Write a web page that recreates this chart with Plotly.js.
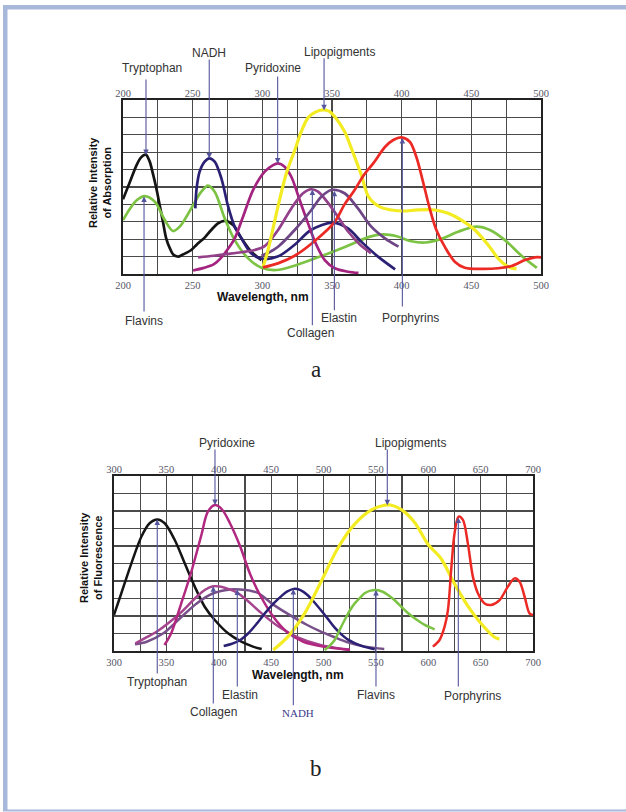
<!DOCTYPE html>
<html>
<head>
<meta charset="utf-8">
<script src="https://cdn.plot.ly/plotly-3.0.1.min.js"></script>
<style>
  html, body { margin: 0; padding: 0; background: #ffffff; }
  #chart { width: 626px; height: 812px; }
</style>
</head>
<body>
<div id="chart"></div>
<script>
// ---------------- DATA ----------------
// (a) absorption
const absTicks = [200, 250, 300, 350, 400, 450, 500];
const absTickLabels = ['200', '250', '300', '350', '400', '450', '500'];

const absTryptophanX = [200, 205, 210, 213, 216.3, 219, 221.5, 224, 226.3, 228.8, 231, 233.5, 236, 239.5, 243, 249, 253, 258.6, 263, 268.2, 273, 279, 285, 292, 299.4];
const absTryptophanY = [4.29, 5.3, 6.3, 6.7, 6.86, 6.5, 5.75, 4.9, 3.97, 2.95, 2.05, 1.5, 1.12, 1.0, 1.12, 1.38, 1.7, 2.09, 2.5, 2.91, 3.05, 2.82, 2.05, 1.28, 0.8];

const absFlavinsX = [200, 205, 210, 215.6, 222.8, 230, 235.9, 240.7, 249, 256.2, 261, 265.8, 273, 280.2, 289.8, 299.4, 310, 324.6, 341.4, 360.6, 377.3, 386.9, 396.5, 407, 417, 428.5, 440.5, 453.7, 463.3, 474.1, 486, 497];
const absFlavinsY = [3.10, 3.75, 4.25, 4.48, 4.16, 3.10, 2.47, 2.72, 3.77, 4.73, 5.08, 4.73, 3.20, 1.95, 0.90, 0.36, 0.23, 0.52, 1.0, 1.6, 2.15, 2.28, 2.17, 1.88, 1.81, 2.02, 2.43, 2.72, 2.53, 1.95, 1.05, 0.35];

const absNadhX = [251.9, 252.8, 255, 258.6, 262, 265.8, 270.6, 275.4, 280, 285, 292, 299.4, 311, 323, 335, 350.7, 361.5, 371, 383, 395.3];
const absNadhY = [3.77, 4.9, 5.88, 6.46, 6.65, 6.46, 5.5, 3.9, 2.75, 2.05, 1.19, 0.88, 1.0, 1.67, 2.53, 2.95, 2.62, 1.86, 1.0, 0.27];

const absPyridoxineX = [250.3, 258, 265, 270, 275.4, 280.2, 286.2, 293.4, 301.7, 307.7, 311.3, 316, 320.8, 326.8, 332.8, 338.8, 344.8, 352, 361.5, 369];
const absPyridoxineY = [0.2, 0.35, 0.55, 0.9, 1.45, 2.05, 3.3, 4.83, 5.88, 6.26, 6.36, 6.17, 5.59, 4.25, 2.91, 1.67, 0.8, 0.33, 0.13, 0.06];

const absCollagenX = [253.9, 265, 275.4, 285, 294.5, 301.7, 311.3, 320.8, 329.2, 335.2, 340, 347, 355, 362, 370, 378];
const absCollagenY = [0.96, 1.05, 1.15, 1.25, 1.38, 1.6, 2.53, 3.77, 4.64, 4.87, 4.73, 4.1, 3.2, 2.4, 1.7, 1.2];

const absElastinX = [299.4, 305, 311.3, 323.2, 335.2, 342.3, 349.5, 359, 368.6, 378.2, 388, 397.7];
const absElastinY = [1.05, 1.25, 1.57, 2.53, 3.68, 4.44, 4.83, 4.64, 3.77, 2.72, 2.05, 1.57];

const absLipopigmentsX = [300.5, 303.5, 306.5, 311.3, 317.3, 323.2, 328, 333, 338, 343.6, 348, 352, 359.1, 364, 371, 375.8, 380.6, 386, 392.6, 401, 411.7, 423.7, 433.3, 442.9, 452.5, 462.1, 469.2, 476.4, 482.4];
const absLipopigmentsY = [0.42, 1.2, 2.2, 3.9, 5.8, 7.1, 8.2, 9.0, 9.3, 9.43, 9.35, 9.04, 8.18, 7.2, 5.7, 4.5, 4.05, 3.8, 3.68, 3.62, 3.68, 3.68, 3.49, 3.10, 2.53, 1.67, 0.90, 0.42, 0.29];

const absPorphyrinsX = [300.5, 311.2, 323.2, 337.6, 352, 359, 366, 373, 380, 388, 394, 399.8, 405.8, 410.5, 415.3, 420.1, 424.9, 430.9, 438.1, 445.3, 457.2, 469.2, 478.8, 488.4, 495.6, 500];
const absPorphyrinsY = [0.38, 0.61, 1.05, 1.9, 3.0, 4.0, 4.8, 5.7, 6.4, 7.3, 7.7, 7.85, 7.6, 6.74, 5.31, 3.77, 2.53, 1.57, 0.71, 0.36, 0.29, 0.33, 0.46, 0.80, 0.96, 0.96];

const absLabels = ['Tryptophan', 'NADH', 'Pyridoxine', 'Lipopigments', 'Flavins', 'Collagen', 'Elastin', 'Porphyrins'];
const absArrowNm = [216.5, 261.9, 311.0, 344.3, 215.1, 335.9, 351.7, 400.5];

// (b) fluorescence
const fluTicks = [300, 350, 400, 450, 500, 550, 600, 650, 700];
const fluTickLabels = ['300', '350', '400', '450', '500', '550', '600', '650', '700'];

const fluTryptophanX = [300, 307, 316.6, 326.1, 334, 341.4, 348.4, 358, 367.5, 377.1, 386.6, 396.2, 408.9, 421.6, 432.7, 441];
const fluTryptophanY = [2.06, 3.30, 5.01, 6.53, 7.30, 7.52, 7.30, 6.34, 5.01, 3.68, 2.53, 1.77, 1.01, 0.53, 0.25, 0.11];

const fluPyridoxineX = [348.2, 354.6, 364.2, 373.7, 383.3, 389.6, 396.4, 403, 410.7, 420.3, 429.9, 439.4, 452.1, 464.9, 480.8, 499.9, 525.3];
const fluPyridoxineY = [0.34, 1.01, 2.72, 4.5, 6.6, 7.96, 8.34, 8.1, 7.30, 6.0, 4.4, 3.2, 1.96, 1.10, 0.53, 0.25, 0.06];

const fluCollagenX = [320.5, 330, 340.7, 352, 363, 378.9, 387, 394.7, 401, 407.6, 417, 425, 441, 457, 476, 497, 519, 525.3];
const fluCollagenY = [0.44, 0.75, 1.10, 1.6, 2.15, 3.10, 3.5, 3.70, 3.68, 3.58, 3.35, 3.0, 2.15, 1.4, 0.77, 0.35, 0.12, 0.08];

const fluElastinX = [320, 331.2, 347.1, 363, 378.9, 394.8, 410.7, 420.3, 430, 438, 452, 468, 484, 496, 510, 523, 540, 558];
const fluElastinY = [0.38, 0.53, 1.01, 1.87, 2.72, 3.30, 3.52, 3.52, 3.45, 3.3, 2.65, 2.05, 1.5, 1.15, 0.8, 0.5, 0.25, 0.12];

const fluNadhX = [404.7, 412, 420.6, 428, 436.5, 444, 452.4, 460, 465.1, 471.5, 478, 484.7, 491, 498, 504, 510.5, 517, 523.4, 536.2, 548.9];
const fluNadhY = [0.29, 0.4, 0.63, 1.0, 1.58, 2.15, 2.72, 3.15, 3.39, 3.55, 3.48, 3.2, 2.8, 2.3, 1.85, 1.35, 0.95, 0.65, 0.29, 0.10];

const fluLipopigmentsX = [452, 466.1, 482, 498, 513.9, 529.8, 545.7, 558, 564, 574.3, 587, 599.7, 612, 625, 638, 650, 663, 668];
const fluLipopigmentsY = [0.06, 0.82, 2.15, 4.0, 5.9, 7.25, 8.06, 8.33, 8.34, 8.08, 7.35, 6.1, 5.3, 3.85, 2.55, 1.6, 0.8, 0.68];

const fluFlavinsX = [501.1, 505, 510.7, 515, 520.2, 525, 529.8, 535, 539.3, 545, 550.4, 556, 561.6, 568, 574.3, 580, 587, 596.6, 606.1];
const fluFlavinsY = [0.06, 0.25, 0.63, 1.15, 1.77, 2.3, 2.72, 3.05, 3.30, 3.45, 3.49, 3.4, 3.20, 2.9, 2.53, 2.2, 1.87, 1.49, 1.24];

const fluPorphyrinsX = [604.4, 610.8, 615.6, 618.8, 621.9, 625.1, 628.9, 633.1, 637.8, 642.6, 647.4, 653.8, 660.1, 668.1, 676, 682.4, 687.2, 692, 696.7, 700];
const fluPorphyrinsY = [0.25, 0.63, 1.39, 2.34, 4.63, 6.72, 7.68, 7.49, 6.15, 4.25, 3.30, 2.72, 2.63, 2.91, 3.68, 4.15, 3.96, 3.10, 2.15, 2.06];

const fluLabels = ['Pyridoxine', 'Lipopigments', 'Tryptophan', 'Collagen', 'Elastin', 'NADH', 'Flavins', 'Porphyrins'];
const fluArrowNm = [396.4, 560.9, 341.3, 394.8, 417.7, 471.2, 550.1, 628.7];

// ---------------- LAYOUT / STYLE ----------------
const W = 626, H = 812;
const px = v => v / W;
const py = v => 1 - v / H;

const frameA = { l: 123, r: 541, t: 100, b: 274 };
const frameB = { l: 114, r: 533, t: 476, b: 651 };
const Y_MAX = 10;

const colors = {
  Tryptophan: '#141414',
  Flavins: '#7cc243',
  NADH: '#2b2174',
  Pyridoxine: '#a3237f',
  Collagen: '#93408a',
  Elastin: '#6e4585',
  Lipopigments: '#f4ec22',
  Porphyrins: '#ec2a25'
};
const colorsB = Object.assign({}, colors, { Pyridoxine: '#b0287f', Collagen: '#a5458d', Elastin: '#77508a' });

const absSeries = {
  Tryptophan: [absTryptophanX, absTryptophanY],
  Flavins: [absFlavinsX, absFlavinsY],
  NADH: [absNadhX, absNadhY],
  Pyridoxine: [absPyridoxineX, absPyridoxineY],
  Collagen: [absCollagenX, absCollagenY],
  Elastin: [absElastinX, absElastinY],
  Lipopigments: [absLipopigmentsX, absLipopigmentsY],
  Porphyrins: [absPorphyrinsX, absPorphyrinsY]
};
const fluSeries = {
  Tryptophan: [fluTryptophanX, fluTryptophanY],
  Elastin: [fluElastinX, fluElastinY],
  Collagen: [fluCollagenX, fluCollagenY],
  Pyridoxine: [fluPyridoxineX, fluPyridoxineY],
  NADH: [fluNadhX, fluNadhY],
  Lipopigments: [fluLipopigmentsX, fluLipopigmentsY],
  Flavins: [fluFlavinsX, fluFlavinsY],
  Porphyrins: [fluPorphyrinsX, fluPorphyrinsY]
};

function interp(xs, ys, x) {
  if (x <= xs[0]) return ys[0];
  for (let i = 1; i < xs.length; i++) {
    if (x <= xs[i]) {
      const t = (x - xs[i - 1]) / (xs[i] - xs[i - 1]);
      return ys[i - 1] + t * (ys[i] - ys[i - 1]);
    }
  }
  return ys[ys.length - 1];
}

const traces = [];
Object.keys(absSeries).forEach(name => {
  traces.push({
    type: 'scatter', mode: 'lines', name: name,
    x: absSeries[name][0], y: absSeries[name][1],
    xaxis: 'x', yaxis: 'y',
    line: { color: colors[name], width: name === 'Lipopigments' ? 3.2 : 2.7, shape: 'spline', smoothing: 0.9 },
    hoverinfo: 'skip'
  });
});
Object.keys(fluSeries).forEach(name => {
  traces.push({
    type: 'scatter', mode: 'lines', name: name,
    x: fluSeries[name][0], y: fluSeries[name][1],
    xaxis: 'x2', yaxis: 'y2',
    line: { color: colorsB[name], width: name === 'Lipopigments' ? 3.2 : 2.5, shape: 'spline', smoothing: 0.9 },
    hoverinfo: 'skip'
  });
});

const absTextPos = [[151.7, 68.3], [209.3, 52.7], [273.3, 68.3], [340, 51.7], [144, 321], [310.7, 332.7], [339, 317.7], [410, 317.7]];
const absTailPy = [78, 58, 75, 56.7, 313, 326.7, 311.7, 308];
const fluTextPos = [[226.7, 443.3], [410, 443.3], [157.3, 681.7], [213.3, 711.7], [240, 695], [297.7, 712.7], [376, 695], [472.3, 695.7]];
const fluTailPy = [448, 448, 675, 705, 688, 706.7, 688, 688];

const labelFont = { family: 'Liberation Sans, Arial, sans-serif', size: 12, color: '#333333' };
const arrowColor = '#55559e';

const annotations = [];
function addLabels(labels, arrowNm, textPos, tailPy, series, frame, xref, yref) {
  const unitPx = (frame.b - frame.t) / Y_MAX;
  labels.forEach((lab, i) => {
    const isNadhB = (xref === 'x2' && lab === 'NADH');
    annotations.push({
      xref: 'paper', yref: 'paper', x: px(textPos[i][0]), y: py(textPos[i][1]),
      xanchor: 'center', yanchor: 'middle', showarrow: false, text: lab,
      font: isNadhB ? { family: 'Liberation Serif, Times New Roman, serif', size: 11, color: '#3b3b8a' } : labelFont
    });
    const s = series[lab];
    const tipY = interp(s[0], s[1], arrowNm[i]);
    const tailU = (frame.b - tailPy[i]) / unitPx;
    annotations.push({
      xref: xref, yref: yref, x: arrowNm[i], y: tipY,
      axref: xref, ayref: yref, ax: arrowNm[i], ay: tailU,
      text: '', showarrow: true, arrowhead: 2, arrowsize: 1, arrowwidth: 1.1,
      arrowcolor: arrowColor, standoff: 0
    });
  });
}
addLabels(absLabels, absArrowNm, absTextPos, absTailPy, absSeries, frameA, 'x', 'y');
addLabels(fluLabels, fluArrowNm, fluTextPos, fluTailPy, fluSeries, frameB, 'x2', 'y2');

const titleFont = { family: 'Liberation Sans, Arial, sans-serif', size: 12, color: '#111111' };
annotations.push(
  { xref: 'paper', yref: 'paper', x: px(263), y: py(297), text: '<b>Wavelength, nm</b>', showarrow: false, font: titleFont, xanchor: 'center', yanchor: 'middle' },
  { xref: 'paper', yref: 'paper', x: px(298.3), y: py(674.5), text: '<b>Wavelength, nm</b>', showarrow: false, font: titleFont, xanchor: 'center', yanchor: 'middle' },
  { xref: 'paper', yref: 'paper', x: px(100), y: py(183), text: '<b>Relative Intensity<br>of Absorption</b>', textangle: -90, showarrow: false,
    font: { family: 'Liberation Sans, Arial, sans-serif', size: 11, color: '#111111' }, xanchor: 'center', yanchor: 'middle' },
  { xref: 'paper', yref: 'paper', x: px(91), y: py(558), text: '<b>Relative Intensity<br>of Fluorescence</b>', textangle: -90, showarrow: false,
    font: { family: 'Liberation Sans, Arial, sans-serif', size: 11, color: '#111111' }, xanchor: 'center', yanchor: 'middle' },
  { xref: 'paper', yref: 'paper', x: px(316), y: py(370), text: 'a', showarrow: false,
    font: { family: 'Liberation Serif, Times New Roman, serif', size: 23, color: '#222222' }, xanchor: 'center', yanchor: 'middle' },
  { xref: 'paper', yref: 'paper', x: px(316), y: py(768), text: 'b', showarrow: false,
    font: { family: 'Liberation Serif, Times New Roman, serif', size: 23, color: '#222222' }, xanchor: 'center', yanchor: 'middle' }
);

const borderColor = '#a8b8da';
const shapes = [
  { type: 'rect', xref: 'paper', yref: 'paper', x0: px(3), x1: px(7.5), y0: py(811), y1: py(5), fillcolor: borderColor, line: { width: 0 }, layer: 'below' },
  { type: 'rect', xref: 'paper', yref: 'paper', x0: px(3), x1: px(626), y0: py(9.5), y1: py(5), fillcolor: borderColor, line: { width: 0 }, layer: 'below' },
  { type: 'rect', xref: 'paper', yref: 'paper', x0: px(3), x1: px(626), y0: py(811.5), y1: py(809.5), fillcolor: borderColor, line: { width: 0 }, layer: 'below' }
];

const gridColor = '#4a4a4a';
const tickFont = { family: 'Liberation Serif, Times New Roman, serif', size: 10.5, color: '#555566' };

function xAxisBase(domain, range, ticks, labels, anchor) {
  return {
    domain: domain, range: range, anchor: anchor,
    tickmode: 'array', tickvals: ticks, ticktext: labels,
    ticks: '', tickfont: tickFont,
    showgrid: true, gridcolor: gridColor, gridwidth: 1.2,
    minor: { dtick: 25, tick0: range[0], showgrid: true, gridcolor: gridColor, gridwidth: 1.2, ticks: '' },
    showline: true, mirror: true, linecolor: '#222222', linewidth: 2,
    zeroline: false, fixedrange: true
  };
}
function xAxisTop(over, range, ticks, labels, anchor) {
  return {
    overlaying: over, side: 'top', anchor: anchor, range: range,
    tickmode: 'array', tickvals: ticks, ticktext: labels,
    ticks: '', tickfont: tickFont, showgrid: false, showline: false, zeroline: false, fixedrange: true
  };
}
function yAxis(domain, anchor) {
  return {
    domain: domain, anchor: anchor, range: [0, Y_MAX], dtick: 1, tick0: 0,
    showticklabels: false, ticks: '', showgrid: true, gridcolor: gridColor, gridwidth: 1.2,
    showline: true, mirror: true, linecolor: '#222222', linewidth: 2, zeroline: false, fixedrange: true
  };
}

const layout = {
  width: W, height: H,
  margin: { l: 0, r: 0, t: 0, b: 0, pad: 0 },
  paper_bgcolor: '#ffffff', plot_bgcolor: '#ffffff',
  showlegend: false,
  xaxis: xAxisBase([px(frameA.l), px(frameA.r)], [200, 500], absTicks, absTickLabels, 'y'),
  yaxis: yAxis([py(frameA.b), py(frameA.t)], 'x'),
  xaxis3: xAxisTop('x', [200, 500], absTicks, absTickLabels, 'y'),
  xaxis2: xAxisBase([px(frameB.l), px(frameB.r)], [300, 700], fluTicks, fluTickLabels, 'y2'),
  yaxis2: yAxis([py(frameB.b), py(frameB.t)], 'x2'),
  xaxis4: xAxisTop('x2', [300, 700], fluTicks, fluTickLabels, 'y2'),
  annotations: annotations,
  shapes: shapes
};

traces.push({ type: 'scatter', mode: 'lines', x: [200, 500], y: [null, null], xaxis: 'x3', yaxis: 'y', hoverinfo: 'skip', showlegend: false });
traces.push({ type: 'scatter', mode: 'lines', x: [300, 700], y: [null, null], xaxis: 'x4', yaxis: 'y2', hoverinfo: 'skip', showlegend: false });

Plotly.newPlot('chart', traces, layout, { staticPlot: true, displayModeBar: false });
</script>
</body>
</html>
